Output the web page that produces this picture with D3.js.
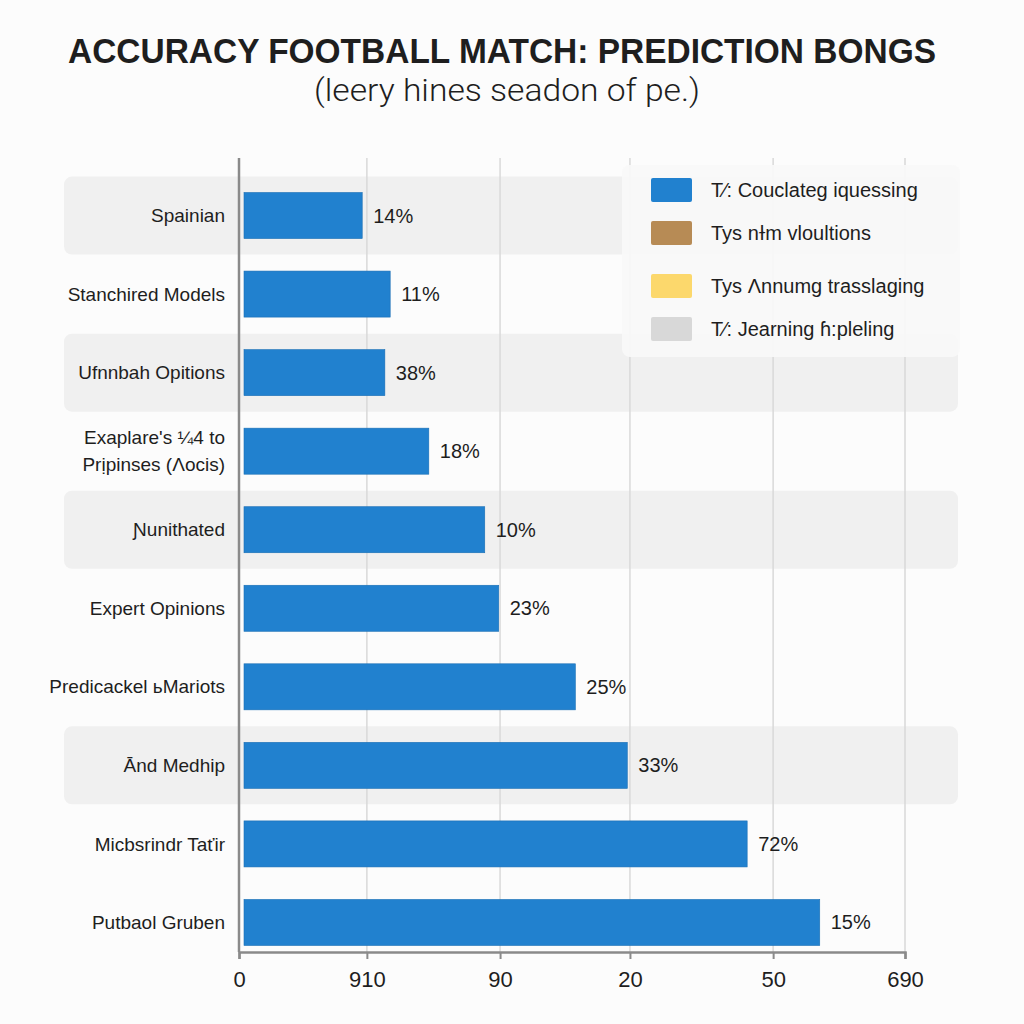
<!DOCTYPE html>
<html><head><meta charset="utf-8">
<script src="https://cdn.jsdelivr.net/npm/d3@7"></script>
<style>
html,body{margin:0;padding:0;background:#fcfcfc;}
svg{display:block;}
text{font-family:"Liberation Sans",Arial,sans-serif;fill:#1e1e1e;}
</style></head>
<body>
<script>
// ---- data ----
const categories = ["Spainian","Stanchired Models","Ufnnbah Opitions","Exaplare's ¼4 to\nPrịpinses (Λocis)","Ɲunithated","Expert Opinions","Predicackel ьMariots","Ānd Medhip","Micbsrindr Taťir","Putbaol Gruben"];
const barValues = [18.5, 22.7, 21.9, 28.5, 36.9, 39.0, 50.5, 58.3, 76.3, 87.2];
const valueLabels = ["14%","11%","38%","18%","10%","23%","25%","33%","72%","15%"];
const tickValues = [0, 19.2, 39.2, 58.7, 80.2, 100];
const tickLabels = ["0","910","90","20","50","690"];
const shadedRows = [0, 2, 4, 7];
const legendLabels = ["T⁄: Couclateg iquessing","Tys nɫm vloultions","Tys Ʌnnumg trasslaging","T⁄:  Jearning ɦ:pleling"];
const legendColors = ["#2181cf","#b78b55","#fcd86c","#d8d8d8"];
const titleText = "ACCURACY FOOTBALL MATCH: PREDICTION BONGS";
const subtitleText = "(leery hines seadon of pe.)";

// ---- chart ----
const W = 1024, H = 1024;
const svg = d3.select("body").append("svg").attr("width", W).attr("height", H);
svg.append("rect").attr("width", W).attr("height", H).attr("fill", "#fcfcfc");

const x = d3.scaleLinear().domain([0, 100]).range([239, 905]);
const y = d3.scaleBand().domain(d3.range(categories.length)).range([160, 978]).paddingInner(0.414).paddingOuter(0.414);
const axisY = 952, topY = 158;

// title
svg.append("text").attr("x", 502).attr("y", 63).attr("text-anchor", "middle")
  .attr("font-size", 35).attr("font-weight", "bold")
  .attr("textLength", 868).attr("lengthAdjust", "spacingAndGlyphs").text(titleText);
svg.append("text").attr("x", 507).attr("y", 101).attr("text-anchor", "middle")
  .attr("font-size", 32).attr("font-weight", 300).style("font-family", "Roboto, 'Liberation Sans', sans-serif")
  .attr("textLength", 386).attr("lengthAdjust", "spacingAndGlyphs").text(subtitleText);

// row shading
svg.append("g").selectAll("rect").data(shadedRows).join("rect")
  .attr("x", 64).attr("width", 894)
  .attr("y", i => y(i) + y.bandwidth()/2 - 39).attr("height", 78)
  .attr("rx", 8).attr("fill", "#f0f0f0");

// gridlines
svg.append("g").selectAll("line").data(tickValues.slice(1)).join("line")
  .attr("x1", d => x(d)).attr("x2", d => x(d)).attr("y1", topY).attr("y2", axisY)
  .attr("stroke", "#d9d9d9").attr("stroke-width", 1.5);

// legend
const lg = svg.append("g");
lg.append("rect").attr("x", 622).attr("y", 165).attr("width", 338).attr("height", 192)
  .attr("rx", 8).attr("fill", "#f9f9f9").attr("opacity", 0.92);
const legY = [190, 233, 286, 329];
legendLabels.forEach((l, i) => {
  lg.append("rect").attr("x", 651).attr("y", legY[i] - 12).attr("width", 41).attr("height", 24)
    .attr("rx", 2).attr("fill", legendColors[i]);
  lg.append("text").attr("x", 711).attr("y", legY[i]).attr("dy", "0.35em")
    .attr("font-size", 20).text(l);
});

// bars
svg.append("g").selectAll("rect").data(barValues).join("rect")
  .attr("x", x(0) + 5).attr("y", (d, i) => y(i))
  .attr("width", d => x(d) - x(0) - 5).attr("height", y.bandwidth())
  .attr("fill", "#2181cf").attr("stroke", "#1a6fb5").attr("stroke-width", 0.6);

// value labels
svg.append("g").selectAll("text").data(barValues).join("text")
  .attr("x", d => x(d) + 11).attr("y", (d, i) => y(i) + y.bandwidth()/2).attr("dy", "0.35em")
  .attr("font-size", 20).text((d, i) => valueLabels[i]);

// category labels
const cl = svg.append("g");
categories.forEach((c, i) => {
  const lines = c.split("\n");
  const cy = y(i) + y.bandwidth()/2;
  lines.forEach((ln, j) => {
    cl.append("text").attr("x", 225).attr("text-anchor", "end")
      .attr("y", cy + (j - (lines.length - 1)/2) * 27).attr("dy", "0.35em")
      .attr("font-size", 19).text(ln);
  });
});

// axes
const xAxis = d3.axisBottom(x).tickValues(tickValues).tickFormat((d, i) => tickLabels[i]).tickSize(7).tickPadding(12);
const ax = svg.append("g").attr("transform", `translate(0,${axisY})`).call(xAxis);
ax.select(".domain").attr("stroke", "#8a8a8a").attr("stroke-width", 2.5);
ax.selectAll(".tick line").attr("stroke", "#8a8a8a").attr("stroke-width", 2);
ax.selectAll(".tick text").attr("font-size", 22).attr("fill", "#1e1e1e")
  .attr("font-family", "'Liberation Sans', Arial, sans-serif");

svg.append("line").attr("x1", x(0)).attr("x2", x(0)).attr("y1", topY).attr("y2", axisY)
  .attr("stroke", "#8a8a8a").attr("stroke-width", 2.5);
</script>
</body></html>
